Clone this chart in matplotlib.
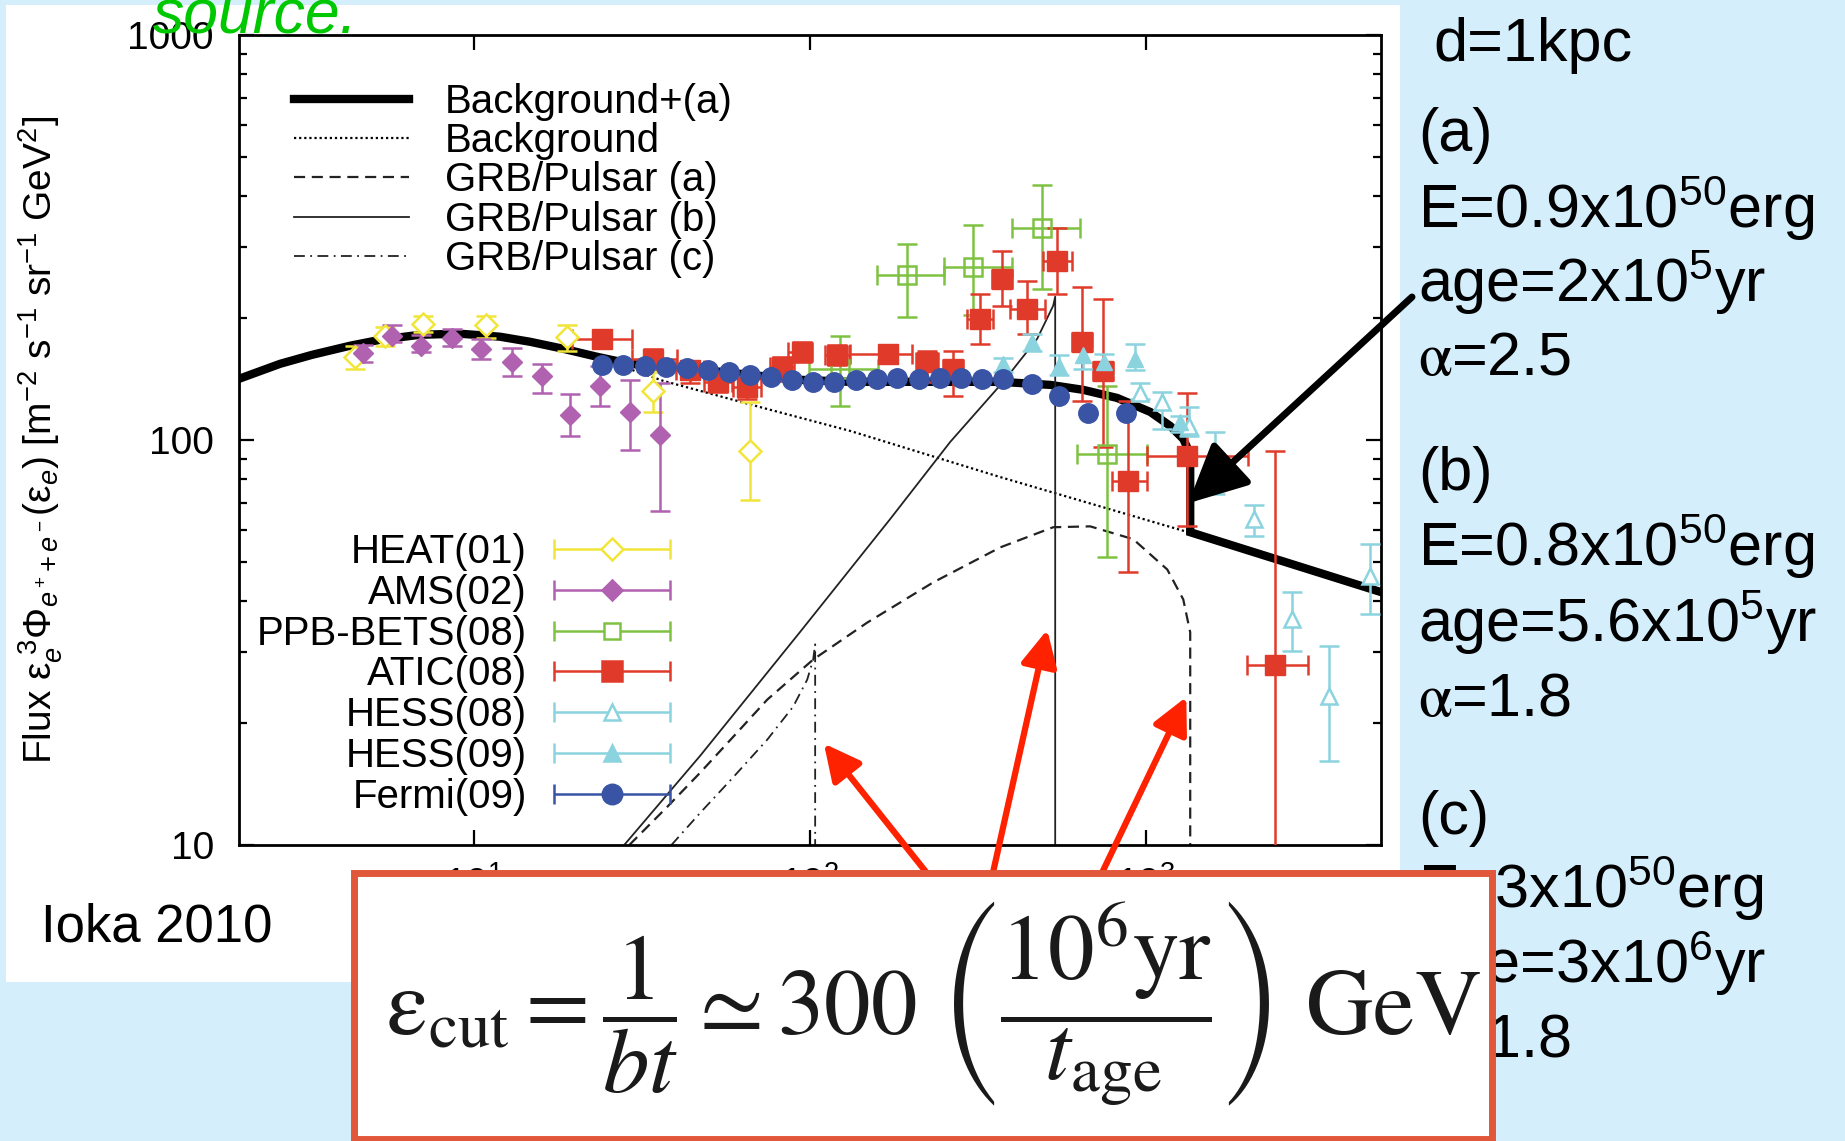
import numpy as np
import matplotlib
matplotlib.use("Agg")
import matplotlib.pyplot as plt
from matplotlib.patches import Rectangle
from matplotlib.container import ErrorbarContainer
from matplotlib.legend_handler import HandlerErrorbar

plt.rcParams['font.family'] = ['Liberation Sans', 'DejaVu Sans']
plt.rcParams['mathtext.fontset'] = 'custom'
plt.rcParams['mathtext.rm'] = 'Liberation Sans'
plt.rcParams['mathtext.it'] = 'Liberation Sans:italic'
plt.rcParams['mathtext.bf'] = 'Liberation Sans:bold'

# ---------------- data : energy [GeV], flux, err low, err high ----------------
heat_e  = [4.43, 5.44, 7.07, 10.9, 18.9, 34.2, 66.4]
heat_f  = [160, 181, 193.7, 191.9, 179.6, 132.4, 94.1]
heat_lo = [149.9, 170.6, 184.8, 178.5, 166.3, 117.3, 71.2]
heat_hi = [171, 190, 202, 202, 191.9, 147.3, 124.4]

ams_e  = [4.69, 5.69, 6.95, 8.59, 10.5, 12.96, 15.9, 19.3, 23.7, 29.2, 35.8]
ams_f  = [164.2, 181, 171, 178.5, 168, 155.7, 143.8, 115.3, 136.3, 117.1, 102.9]
ams_lo = [156.2, 174.5, 164.8, 170.6, 158.7, 143.8, 130.7, 102.5, 121.6, 94.6, 66.8]
ams_hi = [171.8, 191.9, 181.3, 187.6, 177.8, 168.6, 154.2, 130.1, 152.2, 140.3, 138.4]

ppb_e   = [122.9, 194.2, 306.5, 489.8, 764.5]
ppb_f   = [149.9, 255.1, 267.6, 332.9, 92.3]
ppb_elo = [99.4, 158.1, 249.6, 398.7, 622.6]
ppb_ehi = [159.5, 249.6, 398.7, 636.8, 1006]
ppb_lo  = [121.4, 201.3, 203.2, 236.4, 51.3]
ppb_hi  = [181, 303.9, 339.2, 426.1, 136.3]

atic_e   = [24.0, 34.1, 44.0, 53.3, 65.0, 82.6, 94.8, 120.4, 170.8, 223.2,
            266.7, 320.9, 373.1, 442.9, 543.8, 645.5, 745.6, 885, 1326, 2423]
atic_f   = [177.8, 158.7, 149.1, 139.2, 135.2, 151.6, 165.1, 162.3, 163.3, 156,
            149.9, 199.4, 250.3, 211, 277.4, 174.8, 148.2, 79.1, 91.3, 27.9]
atic_elo = [19.55, 29.5, 40.0, 48.4, 59.1, 76.1, 86.1, 110.9, 131.7, 206.9,
            249, 293.6, 348.3, 394, 494.2, 602.9, 696, 793, 1008, 2000]
atic_ehi = [29.5, 40.2, 48.4, 58.6, 71.5, 89.7, 101.5, 130.8, 201.4, 240.6,
            285.6, 350.8, 399.6, 501, 602.9, 691.3, 798.5, 1008, 2014, 3038]
atic_lo  = [169.9, 149.9, 138.4, 131.5, 126.4, 140, 156, 153.3, 156, 139.2,
            128.5, 172.8, 214.6, 183, 229.8, 124.9, 96.1, 47.1, 61.2, 1]
atic_hi  = [185, 168, 156.8, 147.3, 144, 160.5, 174.8, 171.8, 171, 166,
            166, 229.8, 292.1, 247.5, 332.9, 239.1, 223.4, 124.9, 130.7, 93.9]

hess08_e  = [960.4, 1114.5, 1338, 1606, 2089, 2716, 3491, 4645]
hess08_f  = [130.7, 124, 108.5, 89.7, 63.8, 36.1, 23.3, 46.2]
hess08_lo = [126.4, 106.5, 102.5, 73.5, 58, 30.1, 16.1, 37.1]
hess08_hi = [138.4, 131.3, 120.7, 104.5, 69.1, 42.1, 31, 55.3]

hess09_e  = [375.7, 457.4, 548.8, 648.6, 750.6, 928.5, 1264]
hess09_f  = [154.2, 174.5, 152.7, 161.7, 155.7, 158.7, 110.6]
hess09_lo = [147.6, 166.3, 144.3, 149.9, 144.3, 148.5, 104.5]
hess09_hi = [159.5, 183, 161.7, 168, 163.3, 172.8, 114.8]

fermi_e = [24.1, 27.8, 32.2, 37.2, 43.0, 49.7, 57.4, 66.3, 76.6, 88.5, 102, 118,
           137, 158, 182, 211, 243, 281, 325, 375, 458, 551, 673, 873]
fermi_f = [153, 153, 152.7, 151.6, 150.3, 148.6, 147.3, 144.9, 142.8, 140.8, 139.2, 139.0,
           140.8, 141.6, 142.4, 141.6, 142.4, 142.4, 141.6, 141.2, 137.6, 128.5, 116.7, 116.7]

# model curves
bkg_e = [2.0, 2.65, 3.30, 4.28, 5.26, 6.91, 9.09, 11.96, 14.69, 18.42, 23.74,
         36.55, 72.55, 131.7, 368.1, 1335, 5009]
bkg_f = [141.6, 154.2, 162.3, 170.9, 176.8, 181.9, 183, 179.9, 174.8, 168, 158.7,
         140, 120, 105.3, 81, 59.2, 42.1]

tot_e = [2.0, 2.65, 3.30, 4.28, 5.26, 6.91, 9.09, 11.96, 14.69, 18.42, 23.26, 29.15,
         47.1, 71.05, 93.5, 131.7, 261.3, 368.1, 518.5, 650, 820.6, 1029, 1180, 1290,
         1353, 1353, 5009]
tot_f = [141.6, 154.2, 162.3, 170.9, 176.8, 181.9, 183, 179.9, 174.8, 168, 160.5, 154.2,
         149.1, 144, 140.8, 139.2, 139.2, 139.2, 136.8, 133, 127, 117.3, 108.3, 100.6,
         92.3, 59.2, 42.1]

grb_a_e = [29.0, 37.6, 47.1, 59.1, 74.6, 102.2, 147.9, 232.5, 368.1, 529.2, 682,
           915.6, 1156, 1290, 1353, 1353]
grb_a_f = [10, 12.42, 15.08, 18.5, 22.85, 28.7, 35.4, 44.5, 54.3, 60.9, 61.2,
           56.9, 47.9, 40.4, 33.5, 5]

grb_b_e = [28.0, 47.1, 93.5, 173.2, 261.3, 375.7, 474.2, 529.2, 536.5, 536.5]
grb_b_f = [10, 16.6, 33.6, 63.8, 98.9, 139.2, 177.8, 214.6, 225.9, 5]

grb_c_e = [38.7, 47.1, 59.1, 74.6, 89.1, 98.1, 102.2, 103.6, 103.6]
grb_c_f = [10, 12.0, 14.7, 18.2, 21.96, 25.6, 28.7, 31.3, 5]

side_text = ["d=1kpc",
             "(a)", "E=0.9x10$^{50}$erg", "age=2x10$^{5}$yr", r"$\mathrm{\alpha}$=2.5",
             "(b)", "E=0.8x10$^{50}$erg", "age=5.6x10$^{5}$yr", r"$\mathrm{\alpha}$=1.8",
             "(c)", "E=3x10$^{50}$erg", "age=3x10$^{6}$yr", r"$\mathrm{\alpha}$=1.8"]
side_base = [61, 151, 228, 302, 375, 490, 566, 642, 716, 834, 908, 983, 1057]

# ------------------------------------------------------------------------
W, H = 1845, 1141
fig = plt.figure(figsize=(W / 100, H / 100), dpi=100)
fig.patch.set_facecolor('#d5eefc')
fig.add_artist(Rectangle((6 / W, 1 - 982 / H), (1400 - 6) / W, (982 - 5) / H,
                         transform=fig.transFigure, fc='white', ec='none', zorder=-5))

ax = fig.add_axes([239 / W, 1 - 845 / H, (1381 - 239) / W, (845 - 35) / H])
ax.set_xscale('log')
ax.set_yscale('log')
ax.set_xlim(2, 5000)
ax.set_ylim(10, 1000)

# curves
l_tot, = ax.plot(tot_e, tot_f, color='black', lw=6, solid_joinstyle='miter', zorder=2,
                 label='Background+(a)')
l_bkg, = ax.plot(bkg_e, bkg_f, color='black', lw=1.6, ls=(0, (1, 1.3)), zorder=2,
                 label='Background')
l_a, = ax.plot(grb_a_e, grb_a_f, color='#222222', lw=1.6, ls=(0, (5, 3)), zorder=2,
               label='GRB/Pulsar (a)')
l_b, = ax.plot(grb_b_e, grb_b_f, color='#222222', lw=1.3, zorder=2, label='GRB/Pulsar (b)')
l_c, = ax.plot(grb_c_e, grb_c_f, color='#222222', lw=1.3, ls=(0, (6, 3, 1, 3)), zorder=2,
               label='GRB/Pulsar (c)')


def yerr(f, lo, hi):
    f = np.array(f, float)
    return [f - np.array(lo), np.array(hi) - f]


def xerr(e, elo, ehi):
    e = np.array(e, float)
    return [e - np.array(elo), np.array(ehi) - e]


c_heat, c_ams, c_ppb = '#f1e53a', '#b061b0', '#7fc242'
c_atic, c_hess, c_fermi = '#e03a2b', '#8bd4df', '#3953a5'
ekw = dict(elinewidth=1.8, capsize=7, capthick=1.8, ls='none', zorder=3)

ax.errorbar(heat_e, heat_f, yerr=yerr(heat_f, heat_lo, heat_hi), fmt='D', ms=11, color=c_heat,
            mfc='white', mew=1.8, **ekw)
ax.errorbar(ams_e, ams_f, yerr=yerr(ams_f, ams_lo, ams_hi), fmt='D', ms=10, color=c_ams, **ekw)
ax.errorbar(ppb_e, ppb_f, xerr=xerr(ppb_e, ppb_elo, ppb_ehi), yerr=yerr(ppb_f, ppb_lo, ppb_hi),
            fmt='s', ms=13, color=c_ppb, mfc='none', mew=1.8, **ekw)
ax.errorbar(atic_e, atic_f, xerr=xerr(atic_e, atic_elo, atic_ehi), yerr=yerr(atic_f, atic_lo, atic_hi),
            fmt='s', ms=14, color=c_atic, **ekw)
ax.errorbar(hess08_e, hess08_f, yerr=yerr(hess08_f, hess08_lo, hess08_hi), fmt='^', ms=12,
            color=c_hess, mfc='white', mew=1.8, **ekw)
ax.errorbar(hess09_e, hess09_f, yerr=yerr(hess09_f, hess09_lo, hess09_hi), fmt='^', ms=12,
            color=c_hess, **ekw)
ax.plot(fermi_e, fermi_f, 'o', ms=14, color=c_fermi, zorder=4)

# legend proxies for data (horizontal bar with caps)
proxies = []
for lab, mk, col, mfc, ms in [('HEAT(01)', 'D', c_heat, 'white', 11),
                              ('AMS(02)', 'D', c_ams, c_ams, 10),
                              ('PPB-BETS(08)', 's', c_ppb, 'white', 12),
                              ('ATIC(08)', 's', c_atic, c_atic, 14),
                              ('HESS(08)', '^', c_hess, 'white', 12),
                              ('HESS(09)', '^', c_hess, c_hess, 12),
                              ('Fermi(09)', 'o', c_fermi, c_fermi, 14)]:
    h = ax.errorbar([np.nan], [np.nan], xerr=[[1], [1]], fmt=mk, ms=ms, color=col, mfc=mfc,
                    mew=1.8, elinewidth=1.8, capsize=7, capthick=1.8, label=lab)
    proxies.append(h)

fs = 29
leg1 = ax.legend(handles=[l_tot, l_bkg, l_a, l_b, l_c], loc='upper left',
                 bbox_to_anchor=(294 / W, 1 - 83 / H), bbox_transform=fig.transFigure,
                 frameon=False, fontsize=fs, handlelength=2.85, handletextpad=0.9,
                 labelspacing=0.03, borderpad=0, borderaxespad=0)
ax.add_artist(leg1)
ax.legend(handles=proxies, loc='upper right', bbox_to_anchor=(671 / W, 1 - 533 / H),
          bbox_transform=fig.transFigure, frameon=False, fontsize=fs, markerfirst=False,
          numpoints=1, handlelength=2.93, handletextpad=0.65, labelspacing=0.07,
          borderpad=0, borderaxespad=0,
          handler_map={ErrorbarContainer: HandlerErrorbar(xerr_size=1.44)})

# axes styling
ax.set_xticks([10, 100, 1000])
ax.set_xticklabels([r'$10^{1}$', r'$10^{2}$', r'$10^{3}$'])
ax.xaxis.set_minor_locator(matplotlib.ticker.NullLocator())
ax.set_yticks([10, 100, 1000])
ax.set_yticklabels(['10', '100', '1000'])
ax.yaxis.set_minor_formatter(matplotlib.ticker.NullFormatter())
ax.tick_params(which='both', direction='in', top=True, right=True, width=1.6, labelsize=28)
ax.tick_params(which='major', length=11)
ax.tick_params(which='minor', length=6)
ax.tick_params(axis='y', pad=18)
ax.tick_params(axis='x', pad=15)
for s in ax.spines.values():
    s.set_linewidth(2)
ax.set_ylabel(r'Flux $\mathrm{\varepsilon}_e^{\ 3}\Phi_{e^+\!+e^-}(\mathrm{\varepsilon}_e)$ [m$^{-2}$ s$^{-1}$ sr$^{-1}$ GeV$^2$]',
              fontsize=28)
ax.yaxis.set_label_coords(-0.152, 0.5)

# arrows
ax.annotate('', xy=(1335, 69.8), xytext=(1412, H - 297), textcoords='figure pixels',
            annotation_clip=False, zorder=6,
            arrowprops=dict(arrowstyle='-|>,head_length=0.45,head_width=0.22', color='black',
                            lw=5, mutation_scale=80, shrinkA=0, shrinkB=0, clip_on=False))
for tip, tail in [((110, 17.8), (930, H - 877)), ((508, 34), (992, H - 877)),
                  ((1317, 23.2), (1100, H - 877))]:
    ax.annotate('', xy=tip, xytext=tail, textcoords='figure pixels', annotation_clip=False,
                zorder=6,
                arrowprops=dict(arrowstyle='-|>,head_length=0.4,head_width=0.2', color='#ff2200',
                                lw=4.5, mutation_scale=55, shrinkA=0, shrinkB=0, clip_on=False))

# texts
fig.text(153 / W, 1 - 33 / H, 'source.', color='#00c800', fontsize=45, style='italic',
         va='baseline', ha='left')
fig.text(41 / W, 1 - 941 / H, 'Ioka 2010', fontsize=38, va='baseline', ha='left')
for i, (t, b) in enumerate(zip(side_text, side_base)):
    x0 = 1433 if i == 0 else 1418
    mf = 'stix' if 'alpha' in t else 'custom'
    fig.text(x0 / W, 1 - b / H, t, fontsize=44, va='baseline', ha='left', math_fontfamily=mf)

# formula box
fig.add_artist(Rectangle((354 / W, 1 - 1139 / H), (1492 - 354) / W, (1139 - 873) / H,
                         transform=fig.transFigure, fc='white', ec='#e0573a', lw=5, zorder=10))
fig.text(933 / W, 1 - 1004 / H,
         r'$\mathrm{\varepsilon}_{\rm cut} = \dfrac{1}{bt} \simeq 300\ \left(\dfrac{10^6{\rm yr}}{t_{\rm age}}\right)\ {\rm GeV}$',
         fontsize=67, ha='center', va='center', math_fontfamily='stix', color='#1a1a1a', zorder=11)

fig.savefig('out.png', dpi=100)
